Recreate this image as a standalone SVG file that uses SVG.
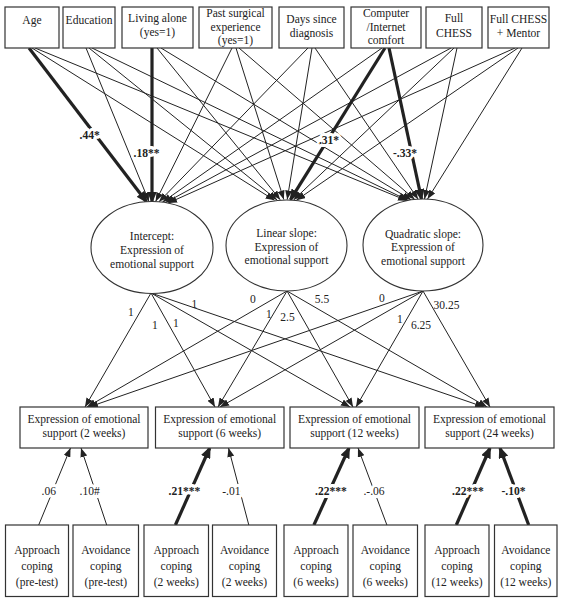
<svg xmlns="http://www.w3.org/2000/svg" width="567" height="599" viewBox="0 0 567 599">
<style>
text{font-family:'Liberation Serif','Times New Roman','DejaVu Serif',serif;font-size:13px;fill:#222;text-anchor:middle}
.b{font-weight:bold}
.h{paint-order:stroke;stroke:#fff;stroke-width:6px;stroke-linejoin:round}
.box{fill:#fff;stroke:#333;stroke-width:1.2}
.ell{fill:#fff;stroke:#333;stroke-width:1.1}
.ln{stroke:#222;stroke-width:1;fill:none;marker-end:url(#a)}
.tk{stroke:#222;stroke-width:3.2;fill:none;marker-end:url(#ak)}
</style>
<defs>
<marker id="a" markerUnits="userSpaceOnUse" markerWidth="9" markerHeight="7" refX="9" refY="3.5" orient="auto"><path d="M0,0L9,3.5L0,7z" fill="#222"/></marker>
<marker id="ak" markerUnits="userSpaceOnUse" markerWidth="12" markerHeight="10" refX="10" refY="5" orient="auto"><path d="M0,0L12,5L0,10z" fill="#222"/></marker>
</defs>
<rect width="567" height="599" fill="#fff"/>
<g id="connectors">
<path class="tk" d="M29,48L146.5,201.7"/>
<path class="ln" d="M32,48L274.6,200.3"/>
<path class="ln" d="M35,48L407,200.7"/>
<path class="ln" d="M86,48L149,201.5"/>
<path class="ln" d="M89,48L277.1,200"/>
<path class="ln" d="M92,48L408.1,200.4"/>
<path class="tk" d="M152,48L152,201.5"/>
<path class="ln" d="M157,48L280.2,199.7"/>
<path class="ln" d="M161,48L411.2,199.9"/>
<path class="ln" d="M232,48L155.6,201.6"/>
<path class="ln" d="M236,48L283.8,199.5"/>
<path class="ln" d="M239,48L414.7,199.4"/>
<path class="ln" d="M308,48L159,201.8"/>
<path class="ln" d="M312,48L287.2,199.5"/>
<path class="ln" d="M315,48L418.1,199.2"/>
<path class="ln" d="M382,48L162.4,202.2"/>
<path class="tk" d="M385,48L290.5,199.6"/>
<path class="tk" d="M389,48L421.5,199"/>
<path class="ln" d="M451,48L165.5,202.6"/>
<path class="ln" d="M454,48L293.6,199.9"/>
<path class="ln" d="M457,48L424.5,199"/>
<path class="ln" d="M515,48L168,203.1"/>
<path class="ln" d="M518,48L296.4,200.2"/>
<path class="ln" d="M522,48L427.5,199.1"/>

<path class="ln" d="M151,293L85,407"/>
<path class="ln" d="M151,293L215,407"/>
<path class="ln" d="M151,293L350,407"/>
<path class="ln" d="M151,293L484,407"/>
<path class="ln" d="M287,291L87,407"/>
<path class="ln" d="M287,291L218,407"/>
<path class="ln" d="M287,291L353,407"/>
<path class="ln" d="M287,291L487,407"/>
<path class="ln" d="M423,291L89,407"/>
<path class="ln" d="M423,291L220,407"/>
<path class="ln" d="M423,291L356,407"/>
<path class="ln" d="M423,291L490,407"/>

<path class="ln" d="M38.7,525L70.5,448"/>
<path class="ln" d="M106.7,525L81,448"/>
<path class="tk" d="M175.4,525L209.7,448"/>
<path class="ln" d="M248.8,525L228.5,448"/>
<path class="tk" d="M313.9,525L349,448"/>
<path class="ln" d="M386.9,525L358,448"/>
<path class="tk" d="M456.3,525L490,448"/>
<path class="tk" d="M528.7,525L500,448"/>

<g id="labels">
<text class="b h" transform="translate(89.7 138.5) scale(.89 1)">.44*</text>
<text class="b h" transform="translate(146.5 156.5) scale(.89 1)">.18**</text>
<text class="b h" transform="translate(329 143.5) scale(.89 1)">.31*</text>
<text class="b h" transform="translate(405 156.5) scale(.89 1)">-.33*</text>

<text transform="translate(131 315.5) scale(.89 1)">1</text>
<text transform="translate(155 328.5) scale(.89 1)">1</text>
<text transform="translate(176 326.5) scale(.89 1)">1</text>
<text transform="translate(194.5 307.5) scale(.89 1)">1</text>
<text transform="translate(253 302.5) scale(.89 1)">0</text>
<text transform="translate(269 318) scale(.89 1)">1</text>
<text transform="translate(287.5 320.5) scale(.89 1)">2.5</text>
<text transform="translate(322 302.5) scale(.89 1)">5.5</text>
<text transform="translate(382 301.5) scale(.89 1)">0</text>
<text transform="translate(400 322.5) scale(.89 1)">1</text>
<text transform="translate(421 328.5) scale(.89 1)">6.25</text>
<text transform="translate(446.5 309) scale(.89 1)">30.25</text>

<text class="h" transform="translate(48.8 494.5) scale(.89 1)">.06</text>
<text class="h" transform="translate(89.7 494.5) scale(.89 1)">.10#</text>
<text class="b h" transform="translate(184.4 494.5) scale(.89 1)">.21***</text>
<text class="h" transform="translate(231.4 494.5) scale(.89 1)">-.01</text>
<text class="b h" transform="translate(331 494.5) scale(.89 1)">.22***</text>
<text class="h" transform="translate(374 494.5) scale(.89 1)">.-.06</text>
<text class="b h" transform="translate(468 494.5) scale(.89 1)">.22***</text>
<text class="b h" transform="translate(513.5 494.5) scale(.89 1)">-.10*</text>
</g>
</g>

<g id="age"><rect class="box" x="5" y="7" width="54" height="41"/><text transform="translate(32 24) scale(.89 1)">Age</text></g>
<g id="education"><rect class="box" x="63" y="7" width="52" height="41"/><text transform="translate(89 24) scale(.89 1)">Education</text></g>
<g id="living"><rect class="box" x="122" y="7" width="71" height="41"/><text transform="translate(157.5 0) scale(.89 1)"><tspan x="0" y="22.5">Living alone</tspan><tspan x="0" y="36">(yes=1)</tspan></text></g>
<g id="surgical"><rect class="box" x="199" y="7" width="73" height="41"/><text transform="translate(235.5 0) scale(.89 1)"><tspan x="0" y="17.5">Past surgical</tspan><tspan x="0" y="31">experience</tspan><tspan x="0" y="44.5">(yes=1)</tspan></text></g>
<g id="days"><rect class="box" x="279" y="7" width="65" height="41"/><text transform="translate(311.5 0) scale(.89 1)"><tspan x="0" y="23.5">Days since</tspan><tspan x="0" y="37">diagnosis</tspan></text></g>
<g id="computer"><rect class="box" x="351" y="7" width="70" height="41"/><text transform="translate(386 0) scale(.89 1)"><tspan x="0" y="17.5">Computer</tspan><tspan x="0" y="31">/Internet</tspan><tspan x="0" y="44.5">comfort</tspan></text></g>
<g id="fullchess"><rect class="box" x="426" y="7" width="56" height="41"/><text transform="translate(454 0) scale(.89 1)"><tspan x="0" y="22">Full</tspan><tspan x="0" y="37">CHESS</tspan></text></g>
<g id="mentor"><rect class="box" x="488" y="7" width="61" height="41"/><text transform="translate(518.5 0) scale(.89 1)"><tspan x="0" y="23.5">Full CHESS</tspan><tspan x="0" y="37.5">+ Mentor</tspan></text></g>

<g id="intercept"><ellipse class="ell" cx="152" cy="247.5" rx="61" ry="46"/><text transform="translate(152 0) scale(.89 1)"><tspan x="0" y="240">Intercept:</tspan><tspan x="0" y="254">Expression of</tspan><tspan x="0" y="268">emotional support</tspan></text></g>
<g id="linear"><ellipse class="ell" cx="286.5" cy="245.5" rx="60.5" ry="45.5"/><text transform="translate(286.5 0) scale(.89 1)"><tspan x="0" y="237.5">Linear slope:</tspan><tspan x="0" y="251">Expression of</tspan><tspan x="0" y="264.5">emotional support</tspan></text></g>
<g id="quadratic"><ellipse class="ell" cx="423" cy="245" rx="60" ry="46"/><text transform="translate(423 0) scale(.89 1)"><tspan x="0" y="238">Quadratic slope:</tspan><tspan x="0" y="251.5">Expression of</tspan><tspan x="0" y="265">emotional support</tspan></text></g>

<g id="es2"><rect class="box" x="20" y="407" width="128" height="41"/><text transform="translate(84 0) scale(.89 1)"><tspan x="0" y="423">Expression of emotional</tspan><tspan x="0" y="437.5">support (2 weeks)</tspan></text></g>
<g id="es6"><rect class="box" x="155.5" y="407" width="128.5" height="41"/><text transform="translate(219.7 0) scale(.89 1)"><tspan x="0" y="423">Expression of emotional</tspan><tspan x="0" y="437.5">support (6 weeks)</tspan></text></g>
<g id="es12"><rect class="box" x="290" y="407" width="129" height="41"/><text transform="translate(354.5 0) scale(.89 1)"><tspan x="0" y="423">Expression of emotional</tspan><tspan x="0" y="437.5">support (12 weeks)</tspan></text></g>
<g id="es24"><rect class="box" x="425" y="407" width="129" height="41"/><text transform="translate(489.5 0) scale(.89 1)"><tspan x="0" y="423">Expression of emotional</tspan><tspan x="0" y="437.5">support (24 weeks)</tspan></text></g>

<g id="ap0"><rect class="box" x="5.5" y="525" width="63" height="71.5"/><text transform="translate(37 0) scale(.89 1)"><tspan x="0" y="554">Approach</tspan><tspan x="0" y="570">coping</tspan><tspan x="0" y="586.5">(pre-test)</tspan></text></g>
<g id="av0"><rect class="box" x="73" y="525" width="65.5" height="71.5"/><text transform="translate(105.8 0) scale(.89 1)"><tspan x="0" y="554">Avoidance</tspan><tspan x="0" y="570">coping</tspan><tspan x="0" y="586.5">(pre-test)</tspan></text></g>
<g id="ap2"><rect class="box" x="144" y="525" width="64.5" height="71.5"/><text transform="translate(176.3 0) scale(.89 1)"><tspan x="0" y="554">Approach</tspan><tspan x="0" y="570">coping</tspan><tspan x="0" y="586.5">(2 weeks)</tspan></text></g>
<g id="av2"><rect class="box" x="212.5" y="525" width="64" height="71.5"/><text transform="translate(244.5 0) scale(.89 1)"><tspan x="0" y="554">Avoidance</tspan><tspan x="0" y="570">coping</tspan><tspan x="0" y="586.5">(2 weeks)</tspan></text></g>
<g id="ap6"><rect class="box" x="284" y="525" width="64" height="71.5"/><text transform="translate(316 0) scale(.89 1)"><tspan x="0" y="554">Approach</tspan><tspan x="0" y="570">coping</tspan><tspan x="0" y="586.5">(6 weeks)</tspan></text></g>
<g id="av6"><rect class="box" x="353" y="525" width="64.5" height="71.5"/><text transform="translate(385.3 0) scale(.89 1)"><tspan x="0" y="554">Avoidance</tspan><tspan x="0" y="570">coping</tspan><tspan x="0" y="586.5">(6 weeks)</tspan></text></g>
<g id="ap12"><rect class="box" x="425" y="525" width="64" height="71.5"/><text transform="translate(457 0) scale(.89 1)"><tspan x="0" y="554">Approach</tspan><tspan x="0" y="570">coping</tspan><tspan x="0" y="586.5">(12 weeks)</tspan></text></g>
<g id="av12"><rect class="box" x="494.5" y="525" width="62.5" height="71.5"/><text transform="translate(525.8 0) scale(.89 1)"><tspan x="0" y="554">Avoidance</tspan><tspan x="0" y="570">coping</tspan><tspan x="0" y="586.5">(12 weeks)</tspan></text></g>
</svg>
